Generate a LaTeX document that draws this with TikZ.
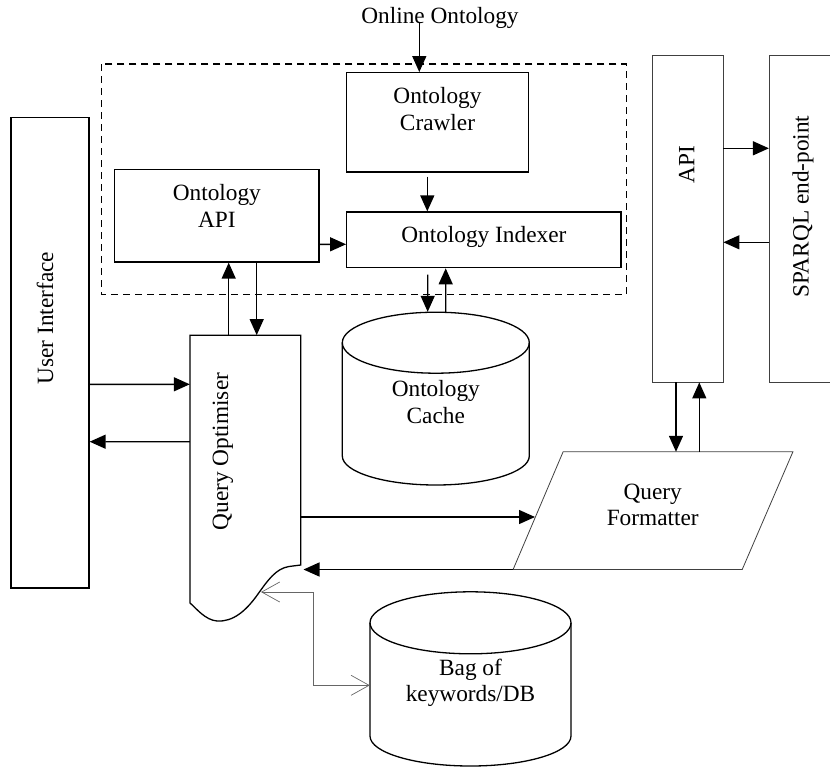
\documentclass[tikz,border=0pt]{standalone}
\usepackage{fontspec}
\setmainfont{Liberation Serif}
\usetikzlibrary{arrows.meta,positioning}

\begin{document}
\begin{tikzpicture}[x=1pt,y=-1pt,
        box/.style={draw, line width=1.3pt, inner sep=0pt},
        thin box/.style={draw=black!75, line width=0.8pt, inner sep=0pt},
        ghost/.style={inner sep=0pt},
        lbl/.style={align=center, inner sep=0pt, font=\fontsize{23.3}{26.5}\selectfont},
        flow/.style={draw, -{Triangle[length=16pt,width=14pt]}, line width=1.4pt},
        kwlink/.style={draw=black!60, line width=0.7pt,
            {Straight Barb[length=18pt,width=20pt]}-{Straight Barb[length=18pt,width=20pt]}}
        ]
        \useasboundingbox (0,0) rectangle (830,766);

        % ontology management block
        \draw[line width=1.4pt, dash pattern=on 7pt off 5pt] (101.7,64) rectangle (626.7,294.3);
        \node [box, minimum width=181.6pt, minimum height=99.3pt] (crawl) at (437.5,122.35) {};
        \node [box, minimum width=204.3pt, minimum height=92.7pt] (oapi) at (216.85,215.65) {};
        \node [box, minimum width=274.3pt, minimum height=55.7pt] (index) at (483.85,239.85) {};

        \node [box, minimum width=78pt, minimum height=470.3pt] (ui) at (50,352.85) {};

        % query optimiser with wavy bottom
        \node [ghost, minimum width=110.7pt, minimum height=229.7pt] (qopt) at (245.35,450.15) {};
        \draw[box] (190,335.3) -- (300.7,335.3) -- (300.7,565) -- (289,566.5)
            .. controls (276,568.5) and (268,580) .. (258,594)
            .. controls (246,611) and (233,622) .. (217,621)
            .. controls (205,620) and (196,608) .. (190,603) -- cycle;
        \coordinate (wave) at (261,592);

        % databases
        \node [ghost, minimum width=187pt, minimum height=173pt] (cache) at (435.8,398.5) {};
        \draw[line width=1.3pt] (435.8,342.7) ellipse [x radius=93.5, y radius=30.5];
        \draw[line width=1.3pt] (342.3,342.7) -- (342.3,456)
            arc [start angle=180, end angle=0, x radius=93.5, y radius=29] -- (529.3,342.7);

        \node [ghost, minimum width=201pt, minimum height=174pt] (bag) at (470.5,679) {};
        \draw[line width=1.3pt] (470.5,622.8) ellipse [x radius=100.5, y radius=31];
        \draw[line width=1.3pt] (370,622.8) -- (370,736)
            arc [start angle=180, end angle=0, x radius=100.5, y radius=30] -- (571,622.8);

        % endpoint side
        \node [thin box, minimum width=70.3pt, minimum height=326.7pt] (api) at (687.85,218.65) {};
        \node [thin box, minimum width=70.7pt, minimum height=326.7pt] (sparql) at (804.65,218.65) {};

        \node [ghost, minimum width=229.6pt, minimum height=117.3pt] (qform) at (652.7,510.65) {};
        \draw[thin box] ([xshift=-24.6pt]qform.south west) -- ([xshift=25.4pt]qform.north west)
            -- ([xshift=25.2pt]qform.north east) -- ([xshift=-25.5pt]qform.south east) -- cycle;

        % labels
        \node [lbl] (onlinetxt) at (440,18) {Online Ontology};
        \node [lbl] (crawltxt) at (437.5,108.8) {Ontology\\Crawler};
        \node [lbl] (oapitxt) at (216.85,205.8) {Ontology\\API};
        \node [lbl] (indextxt) at (483.85,236.7) {Ontology Indexer};
        \node [lbl, rotate=90] (uitxt) at (45,318) {User Interface};
        \node [lbl, rotate=90] (qopttxt) at (223,451.5) {Query Optimiser};
        \node [lbl, rotate=90] (apitxt) at (686.7,165) {API};
        \node [lbl, rotate=90] (sparqltxt) at (803,206.7) {SPARQL end-point};
        \node [lbl] (cachetxt) at (435.8,401.8) {Ontology\\Cache};
        \node [lbl] (bagtxt) at (470.5,682.8) {Bag of\\keywords/DB};
        \node [lbl] (qformtxt) at (652.7,505) {Query\\Formatter};

        \coordinate (feed) at (419.3,21.7);

        \path[every edge/.style={flow}]
        (feed) edge (feed |- crawl.north)
        ([xshift=-10.2pt,yshift=-4pt]crawl.south) edge ([xshift=-56.55pt]index.north)
        ([yshift=-28.65pt]oapi.east) edge ([yshift=-4.45pt]index.west)
        ([xshift=-16.65pt]qopt.north) edge ([xshift=11.85pt]oapi.south)
        ([xshift=39.85pt]oapi.south) edge ([xshift=11.35pt]qopt.north)
        ([xshift=-56.15pt,yshift=-6.3pt]index.south) edge ([xshift=-8.1pt]cache.north)
        ([xshift=9.9pt]cache.north) edge ([xshift=-38.15pt]index.south)
        ([yshift=-31.45pt]ui.east) edge ([yshift=65.85pt]qopt.west)
        ([yshift=8.45pt]qopt.west) edge ([yshift=-88.85pt]ui.east)
        ([yshift=-66.85pt]qopt.east) edge ([xshift=-2.7pt,yshift=-6.35pt]qform.west)
        ([xshift=-24.6pt]qform.south west) edge ([xshift=2.6pt,yshift=-4.3pt]qopt.south east)
        ([yshift=70.35pt]api.east) edge ([yshift=70.35pt]sparql.west)
        ([yshift=-23.65pt]sparql.west) edge ([yshift=-23.65pt]api.east)
        ([xshift=-11.85pt]api.south) edge ([xshift=23.3pt]qform.north)
        ([xshift=46.6pt]qform.north) edge ([xshift=11.45pt]api.south)
        ;

        \draw[kwlink] (wave) -- ++(52,0) |- ([yshift=-6.3pt]bag.west);
     \end{tikzpicture}
\end{document}
